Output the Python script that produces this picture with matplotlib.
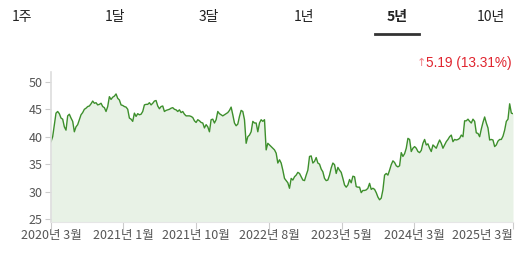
import numpy as np
import pandas as pd
import matplotlib
matplotlib.use("Agg")
import matplotlib.pyplot as plt

plt.rcParams['font.family'] = ['Noto Sans CJK KR', 'DejaVu Sans']

# price samples, evenly spaced in time
prices = [
    39.1, 40.0, 42.2, 44.3, 44.6, 44.2, 43.4, 43.2, 41.8, 41.2, 43.8, 44.1, 43.4, 42.8, 40.9, 41.8,
    42.2, 43.1, 44.0, 44.4, 45.0, 45.2, 45.5, 45.6, 46.0, 46.5, 46.1, 46.2, 45.8, 45.9, 46.1, 45.5,
    45.3, 44.6, 45.5, 47.3, 46.8, 47.2, 47.4, 47.8, 47.0, 46.7, 45.8, 45.7, 45.5, 45.4, 45.0, 43.4,
    43.2, 42.8, 44.3, 43.7, 44.2, 44.0, 44.1, 44.6, 45.8, 45.9, 45.9, 46.2, 45.8, 46.1, 46.5, 46.6,
    45.6, 45.1, 45.5, 45.6,
    44.6, 44.8, 44.9, 45.0, 45.2, 45.3, 45.0, 44.9, 44.6, 44.9, 44.4, 44.6, 44.1, 43.8, 43.8, 43.8,
    43.7, 43.5, 42.9, 42.6, 43.1, 42.9, 42.6, 42.5, 41.6, 42.2, 41.8, 40.9, 43.1, 43.2, 42.5, 43.1,
    44.6, 44.2, 44.0, 43.8, 44.0, 44.2, 44.4, 44.8, 45.4, 44.0, 42.5, 42.0, 42.3, 43.7, 44.8, 44.6,
    43.1, 38.8, 40.0, 40.3, 40.9, 42.8, 42.5, 42.5, 40.9, 42.5, 43.1, 42.8, 43.1, 37.6, 38.8, 38.5,
    38.2, 37.9, 37.6, 37.0,
    35.2, 35.8, 35.2, 33.9, 32.4, 32.0, 31.6, 30.6, 32.4, 32.1, 32.7, 33.0, 33.5, 33.3, 32.7, 32.1,
    32.0, 33.0, 33.9, 36.4, 36.5, 35.2, 35.5, 36.2, 35.2, 35.0, 34.1, 33.6, 32.4, 32.0, 32.1, 33.0,
    34.3, 35.2, 34.9, 33.3, 34.4, 33.9, 33.5, 32.4, 31.2, 30.8, 31.2, 32.2, 31.6, 32.8, 32.7, 30.9,
    30.8, 30.8, 29.8, 30.2, 30.2, 30.3, 30.6, 31.5, 30.4, 30.6, 30.4, 29.8, 29.0, 28.5, 28.8, 30.3,
    33.0, 33.3, 33.0, 33.9, 34.9, 35.6, 35.3, 34.7, 34.5, 34.7, 37.1, 36.4, 36.9, 37.9, 39.7, 39.5,
    37.3, 37.9, 38.2, 37.9, 37.3, 37.1, 37.5, 38.8, 39.5, 38.5, 38.7, 37.9, 37.3, 38.5, 38.2, 37.9,
    38.7, 39.4, 38.8, 37.9, 38.5, 39.1, 39.5, 40.0, 40.3, 39.1, 39.5, 39.4, 39.5, 39.7, 40.3, 40.0,
    42.9, 42.9, 43.2, 42.8, 42.5, 43.2, 42.8, 40.7, 40.6, 40.0, 41.4, 42.6, 43.6, 42.5, 41.6, 39.4,
    39.5, 39.4, 38.2, 38.5, 39.2, 39.5, 39.5, 40.1, 41.2, 42.8, 43.2, 46.0, 44.3, 44.2,
]
start_date = "2020-03-02"
end_date = "2025-03-14"

tick_dates = ["2020-03-02", "2020-12-15", "2021-10-01", "2022-07-18",
              "2023-05-03", "2024-02-15", "2025-03-14"]
tick_labels = ["2020년 3월", "2021년 1월", "2021년 10월", "2022년 8월",
               "2023년 5월", "2024년 3월", "2025년 3월"]
y_ticks = [25, 30, 35, 40, 45, 50]

tabs = ["1주", "1달", "3달", "1년", "5년", "10년"]
selected_tab = "5년"
change_text = "5.19 (13.31%)"

dates = pd.date_range(start_date, end_date, periods=len(prices))

fig = plt.figure(figsize=(5.22, 2.58), dpi=100)
ax = fig.add_axes([51 / 522, 36 / 258, 462 / 522, 150 / 258])

ax.set_ylim(24.45, 51.8)
ax.set_xlim(dates[0], dates[-1])
ax.fill_between(dates, prices, 24.45, color="#e8f2e6", linewidth=0)
ax.plot(dates, prices, color="#3d8f2c", linewidth=1.0)

for s in ["top", "right"]:
    ax.spines[s].set_visible(False)
ax.spines["left"].set_color("#dddddd")
ax.spines["bottom"].set_color("#e6e6e6")
ax.spines["left"].set_linewidth(1.2)

ax.set_yticks(y_ticks)
ax.set_xticks(pd.to_datetime(tick_dates))
ax.set_xticklabels(tick_labels)
ax.get_xticklabels()[-1].set_horizontalalignment("right")
ax.tick_params(axis="y", colors="#cccccc", labelcolor="#555555", labelsize=9, length=4, pad=2)
ax.tick_params(axis="x", colors="#cccccc", labelcolor="#555555", labelsize=9, length=5, pad=0)

# tab row
tab_x = [22, 115, 209, 304, 397, 491]
for label, x in zip(tabs, tab_x):
    fig.text(x / 522, 1 - 17 / 258, label, ha="center", va="center", fontsize=10,
             color="#222222", fontweight="bold" if label == selected_tab else "normal")
sel = tab_x[tabs.index(selected_tab)]
fig.add_artist(plt.Line2D([(sel - 22) / 522, (sel + 22) / 522], [1 - 34 / 258] * 2,
                          color="#333333", linewidth=2))

fig.text(512 / 522, 1 - 63 / 258, change_text, ha="right", va="center", fontsize=9.8,
         color="#e0242e", family=["Liberation Sans"])
fig.text(421 / 522, 1 - 63 / 258, "↑", ha="center", va="center", fontsize=8, color="#f07a80",
         family=["DejaVu Sans"])

fig.savefig("out.png", dpi=100)
